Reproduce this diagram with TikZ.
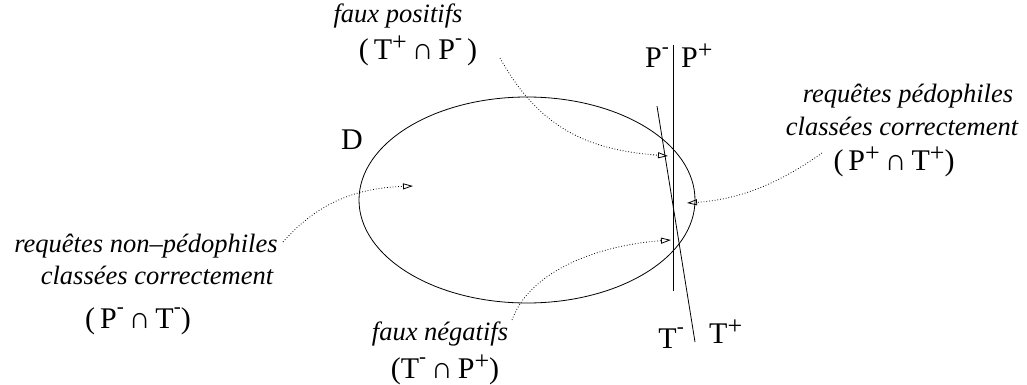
\documentclass[tikz,border=0pt]{standalone}
\usepackage{fontspec}
\setmainfont{Liberation Serif}
\usetikzlibrary{arrows.meta,shapes.geometric}
\newcommand\supp{\smash{\raisebox{0.3em}{\fontsize{26}{26}\selectfont +}}}
\newcommand\supm{\smash{\raisebox{0.48em}{\fontsize{21}{21}\selectfont -}}}
\begin{document}
\begin{tikzpicture}[x=1pt,y=-1pt,
  lbl/.style={font=\itshape\fontsize{26.5}{26.5}\selectfont, inner sep=0pt},
  setl/.style={font=\fontsize{30}{30}\selectfont, inner sep=0pt},
  ptr/.style={dotted, line width=0.8pt, -{Triangle[open,length=10pt,width=6pt]}},
  boundary/.style={line width=0.8pt}]
\useasboundingbox (0,0) rectangle (1027,385);
\node[ellipse, draw, line width=0.8pt, minimum width=336pt, minimum height=206pt, inner sep=0pt] (D) at (527,200) {};
\node[setl] (Dl) at (352,140) {D};
% separators
\coordinate (Ptop) at (673,45);
\coordinate (Pbot) at (673,291);
\coordinate (Ttop) at (657,106);
\coordinate (Tbot) at (695,342);
\draw[boundary] (Ptop) -- (Pbot);
\draw[boundary] (Ttop) -- (Tbot);
\node[setl, anchor=base east] (Pm) at (669,68) {P\supm};
\node[setl, anchor=base west] (Pp) at (681,68) {P\supp};
\node[setl, anchor=base east] (Tm) at (684,348) {T\supm};
\node[setl, anchor=base west] (Tp) at (709,343) {T\supp};
% labels
\node[lbl] (fp) at (398,16) {faux positifs};
\node[setl] (fps) at (418,52) {(\,T\supp\,∩\,P\supm\,)};
\node[lbl] (rp1) at (908,96) {requêtes pédophiles};
\node[lbl] (rp2) at (902,126) {classées correctement};
\node[setl] (rps) at (894,163) {(\,P\supp\,∩\,T\supp)};
\node[lbl] (rn1) at (146,246) {requêtes non\textendash pédophiles};
\node[lbl] (rn2) at (157,275) {classées correctement};
\node[setl] (rns) at (138,321) {(\,P\supm\,∩\,T\supm)};
\node[lbl] (fn) at (440,334) {faux négatifs};
\node[setl] (fns) at (445,371) {(T\supm\,∩\,P\supp)};
% pointers
\coordinate (a1s) at (500,58);
\coordinate (a1e) at (668,156);
\coordinate (a2s) at (822,153);
\coordinate (a2e) at (687,203);
\coordinate (a3s) at (283,242);
\coordinate (a3e) at (413,186);
\coordinate (a4s) at (512,320);
\coordinate (a4e) at (671,240);
\draw[ptr] (a1s) .. controls (540,130) and (590,150) .. (a1e);
\draw[ptr] (a2s) .. controls (770,190) and (730,200) .. (a2e);
\draw[ptr] (a3s) .. controls (320,200) and (360,188) .. (a3e);
\draw[ptr] (a4s) .. controls (530,270) and (600,245) .. (a4e);
\end{tikzpicture}
\end{document}
